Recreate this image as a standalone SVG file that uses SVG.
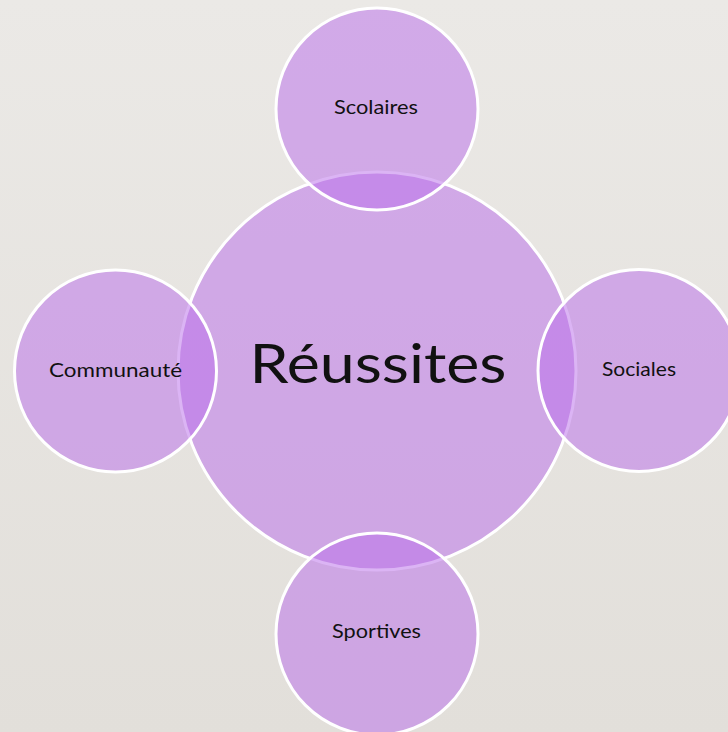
<svg xmlns="http://www.w3.org/2000/svg" width="728" height="732" viewBox="0 0 728 732">
  <defs>
    <linearGradient id="bg" x1="0" y1="0" x2="0" y2="1">
      <stop offset="0" stop-color="#ebe9e6"/>
      <stop offset="1" stop-color="#e2dfda"/>
    </linearGradient>
    <style>
      .c { fill: #bb71ea; fill-opacity: 0.53; stroke: #ffffff; stroke-width: 3; }
      .lbl { font-family: Lato, "Open Sans", sans-serif; font-size: 19px; fill: #111111; text-anchor: middle; }
      .big { font-family: Lato, "Open Sans", sans-serif; font-size: 54px; fill: #111111; text-anchor: middle; }
    </style>
  </defs>
  <rect x="0" y="0" width="728" height="732" fill="url(#bg)"/>
  <g id="connectors"></g>
  <g id="center">
    <circle class="c" cx="377" cy="371" r="199"/>
    <text class="big" x="378" y="383" textLength="257" lengthAdjust="spacingAndGlyphs">Réussites</text>
  </g>
  <g id="scolaires">
    <circle class="c" cx="377" cy="109" r="101"/>
    <text class="lbl" x="376" y="114" textLength="84" lengthAdjust="spacingAndGlyphs">Scolaires</text>
  </g>
  <g id="communaute">
    <circle class="c" cx="115.5" cy="371" r="101"/>
    <text class="lbl" x="115.5" y="377" textLength="133" lengthAdjust="spacingAndGlyphs">Communauté</text>
  </g>
  <g id="sociales">
    <circle class="c" cx="639" cy="370.5" r="101"/>
    <text class="lbl" x="639" y="376" textLength="74" lengthAdjust="spacingAndGlyphs">Sociales</text>
  </g>
  <g id="sportives">
    <circle class="c" cx="377" cy="634" r="101"/>
    <text class="lbl" x="376.5" y="638" textLength="89" lengthAdjust="spacingAndGlyphs">Sportives</text>
  </g>
</svg>
